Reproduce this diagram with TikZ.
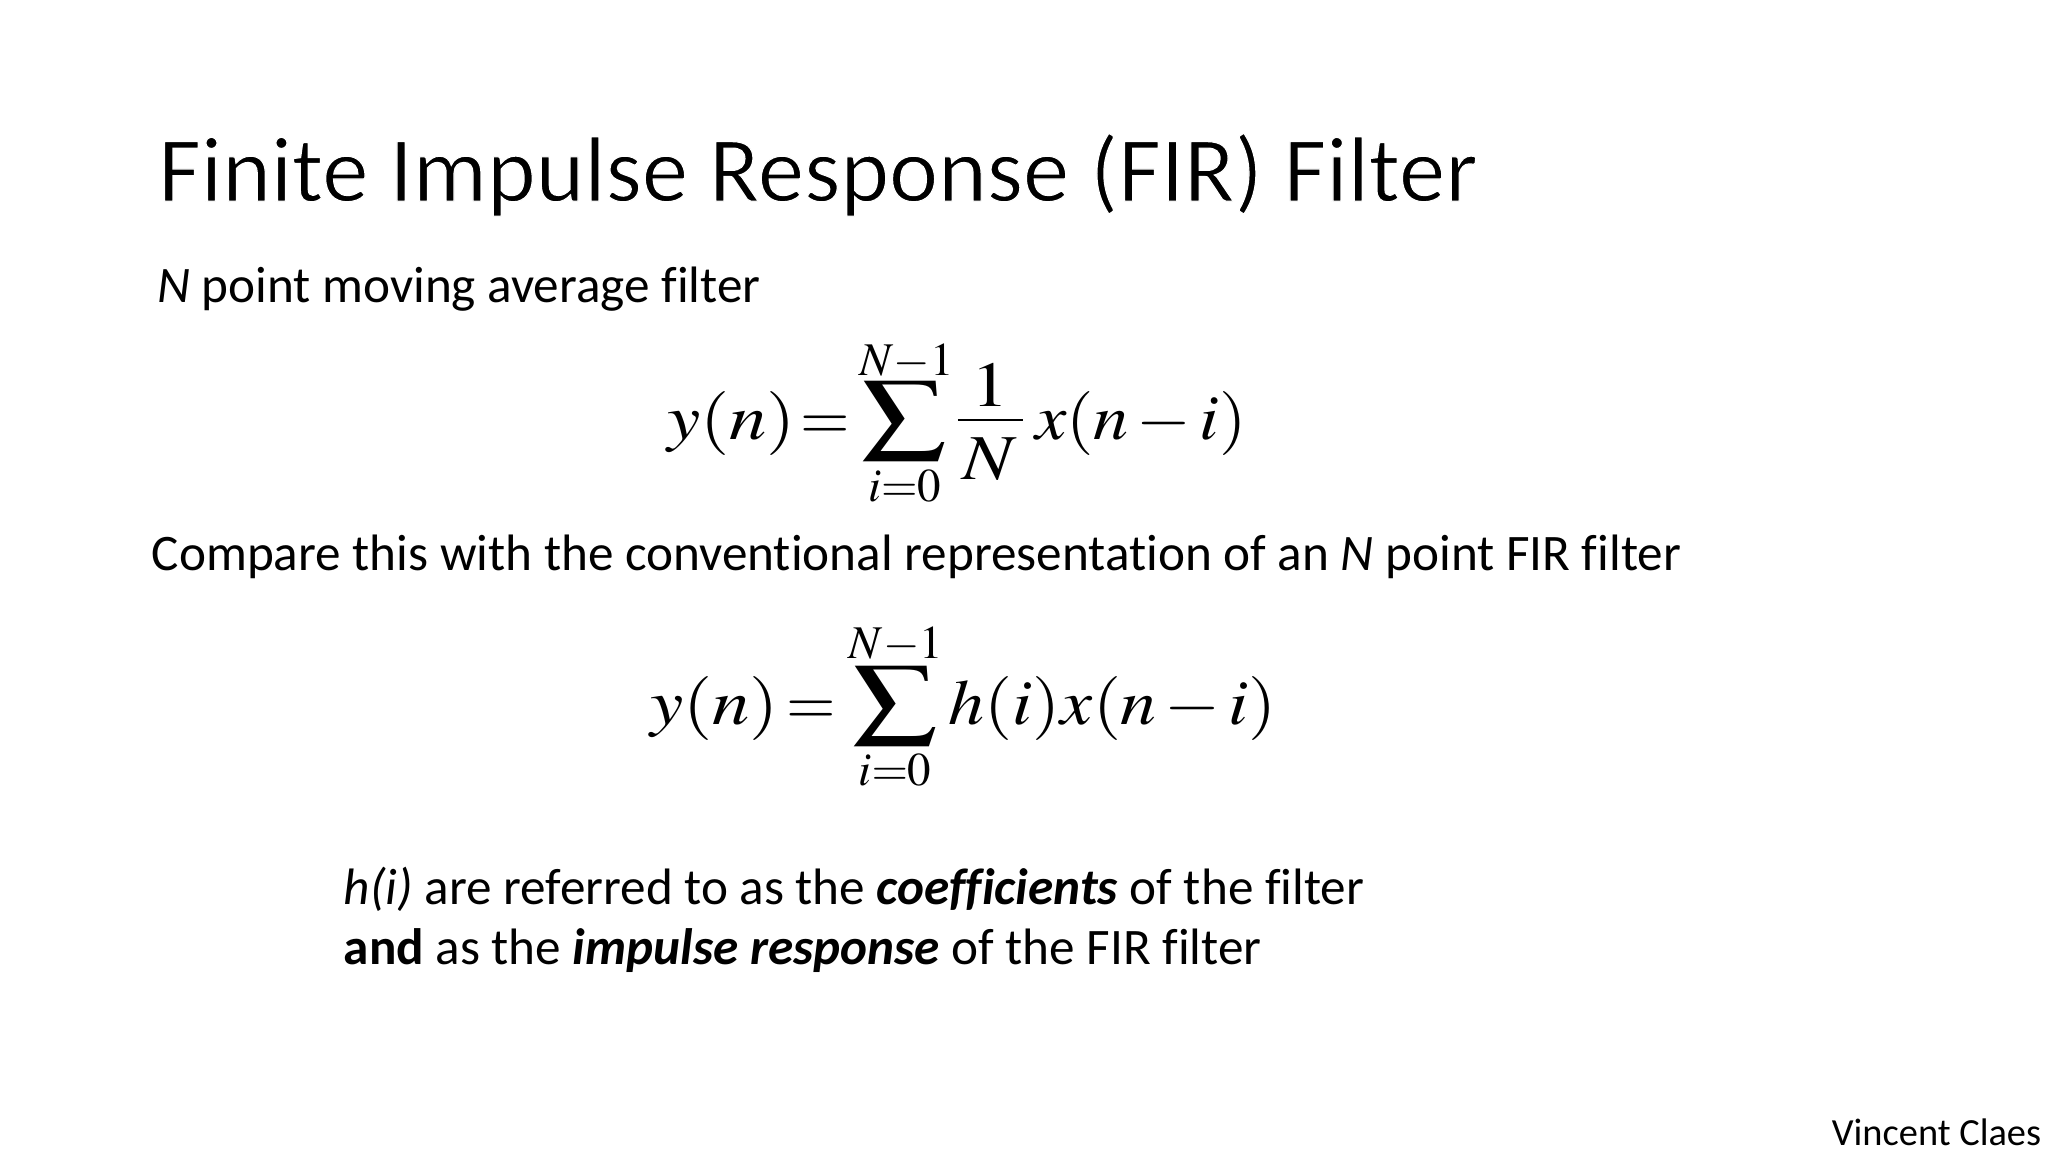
\documentclass[tikz,border=0pt]{standalone}
\usepackage{amsmath}
\usepackage{mathptmx}
\usepackage[no-math]{fontspec}
\setmainfont{Carlito}[Ligatures=NoCommon]
\usepackage{tikz}
\newcommand{\thintext}[1]{\special{pdf:code q 2 Tr 1 1 1 RG 0.55 w}#1\special{pdf:code Q}}
\tikzset{
  titletext/.style={anchor=base west, inner sep=0pt, font=\fontsize{43.5}{52}\selectfont},
  bodytext/.style={anchor=base west, inner sep=0pt, font=\fontsize{24}{29}\selectfont},
  eqnpart/.style={inner sep=0pt, font=\fontsize{30}{36}\selectfont, xscale=1.17, transform shape},
  eqntail/.style={inner sep=0pt, anchor=base west, font=\fontsize{30}{36}\selectfont, transform shape},
  limitpart/.style={inner sep=0pt, font=\fontsize{22}{26}\selectfont},
  creditext/.style={anchor=base east, inner sep=0pt, font=\fontsize{18}{22}\selectfont}
}
\begin{document}
\begin{tikzpicture}[x=1pt, y=1pt]
\useasboundingbox (0, 0) rectangle (960, 540);
\medmuskip=2mu
\node [titletext] (title) at (74, 445.7) {\thintext{Finite Impulse Response (FIR) Filter}};
\node [bodytext] (intro) at (73.5, 398) {\textit{N} point moving average filter};
% moving average
\node [eqnpart, anchor=base west] (avgL) at (312.5, 334) {$y(n)$};
\node [eqnpart, anchor=base, xscale=.85] (avgE) at (386.7, 334) {$=$};
\node [eqnpart, anchor=center, xscale=1.03] (avgS) at (424, 342.5) {\scalebox{1.08}[1]{$\displaystyle\sum$}};
\node [limitpart] (avgU) at (425, 370.5) {$N{-}1$};
\node [limitpart] (avgD) at (424, 312) {$i{=}0$};
\node [eqnpart] (avgO) at (464, 359.5) {$1$};
\node [eqnpart] (avgN) at (464, 324.5) {$N$};
\coordinate (barL) at (449, 343);
\coordinate (barR) at (479.5, 343);
\draw [line width=1pt] (barL) to (barR);
\node [eqntail, xscale=1.10] (avgR) at (485, 334) {$x(n-i)$};
\node [bodytext] (compare) at (71, 272.5) {Compare this with the conventional representation of an \textit{N} point FIR filter};
% general form
\node [eqnpart, anchor=base west] (firL) at (304.5, 200.5) {$y(n)$};
\node [eqnpart, anchor=base, xscale=.85] (firE) at (380.3, 200.5) {$=$};
\node [eqnpart, anchor=center, xscale=1.03] (firS) at (419.5, 209) {\scalebox{1.08}[1]{$\displaystyle\sum$}};
\node [limitpart] (firU) at (420, 238) {$N{-}1$};
\node [limitpart] (firD) at (419.5, 179) {$i{=}0$};
\node [eqntail, xscale=1.125] (firR) at (444.6, 200.5) {$h(i)x(n-i)$};
\node [bodytext] (coeff) at (161, 116.2) {\textit{h(i)} are referred to as the \textbf{\textit{coefficients}} of the filter};
\node [bodytext] (impulse) at (161, 88) {\textbf{and} as the \textbf{\textit{impulse response}} of the FIR filter};
\node [creditext] (credit) at (957, 3) {Vincent Claes};
\end{tikzpicture}
\end{document}
